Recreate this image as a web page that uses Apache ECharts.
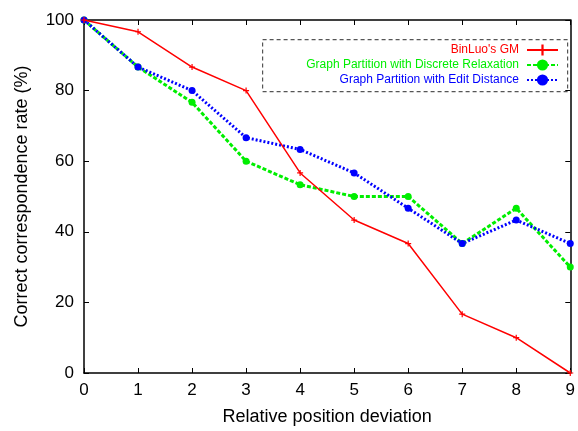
<!DOCTYPE html>
<html><head><meta charset="utf-8">
<script src="https://cdn.jsdelivr.net/npm/echarts@6/dist/echarts.min.js"></script>
<style>html,body{margin:0;padding:0;background:#fff;overflow:hidden}#c{width:578px;height:431px}</style>
</head><body><div id="c"></div>
<script>
const xValues = [0,1,2,3,4,5,6,7,8,9];
const binLuo = [100,96.67,86.67,80,56.67,43.33,36.67,16.67,10,0];
const discreteRelax = [100,86.67,76.67,60,53.33,50,50,36.67,46.67,30];
const editDistance = [100,86.67,80,66.67,63.33,56.67,46.67,36.67,43.33,36.67];
const seriesNames = ["BinLuo's GM","Graph Partition with Discrete Relaxation","Graph Partition with Edit Distance"];
const xTicks = [0,1,2,3,4,5,6,7,8,9];
const yTicks = [0,20,40,60,80,100];

const pair = arr => xValues.map((x,i)=>[x,arr[i]]);
const font = 'Liberation Sans, Arial, sans-serif';
const plus = 'path://M-0.2,-1 L0.2,-1 L0.2,-0.2 L1,-0.2 L1,0.2 L0.2,0.2 L0.2,1 L-0.2,1 L-0.2,0.2 L-1,0.2 L-1,-0.2 L-0.2,-0.2 Z';
const axBase = () => ({
  axisLine:{show:true,onZero:false,lineStyle:{color:'#000',width:1.5}},
  axisTick:{show:true,inside:true,length:5,lineStyle:{color:'#000',width:1}},
  splitLine:{show:false}
});
const chart = echarts.init(document.getElementById('c'),null,{renderer:'canvas'});
chart.setOption({
  animation:false,
  backgroundColor:'#fff',
  grid:{left:84,right:6,top:20,bottom:55},
  xAxis:[
    Object.assign({type:'value',min:0,max:9,interval:1,position:'bottom',
      name:'Relative position deviation',nameLocation:'middle',nameGap:35,
      nameTextStyle:{fontFamily:font,fontSize:18,color:'#000'},
      axisLabel:{fontFamily:font,fontSize:17,color:'#000',margin:9,
        formatter:v=>xTicks.includes(v)?String(v):''}},axBase()),
    Object.assign({type:'value',min:0,max:9,interval:1,position:'top',axisLabel:{show:false}},axBase())
  ],
  yAxis:[
    Object.assign({type:'value',min:0,max:100,interval:20,position:'left',
      name:'Correct correspondence rate (%)',nameLocation:'middle',nameGap:53,
      nameTextStyle:{fontFamily:font,fontSize:18,color:'#000'},
      axisLabel:{fontFamily:font,fontSize:17,color:'#000',margin:10,
        formatter:v=>yTicks.includes(v)?String(v):''}},axBase()),
    Object.assign({type:'value',min:0,max:100,interval:20,position:'right',axisLabel:{show:false}},axBase())
  ],
  legend:{
    orient:'vertical',right:14,top:38,align:'right',itemGap:1,itemWidth:31,itemHeight:14,
    data:[
      {name:seriesNames[0],textStyle:{color:'#ff0000'}},
      {name:seriesNames[1],textStyle:{color:'#00ee00'}},
      {name:seriesNames[2],textStyle:{color:'#0000ff'}}
    ],
    textStyle:{fontFamily:font,fontSize:12,lineHeight:14,padding:[0,3,0,0]}
  },
  graphic:[{type:'rect',left:262,top:39,shape:{width:305,height:52},
    style:{fill:'transparent',stroke:'#555',lineWidth:1.2,lineDash:[4,3]},z:100}],
  series:[
    {name:seriesNames[0],type:'line',data:pair(binLuo),color:'#ff0000',
     lineStyle:{color:'#ff0000',width:1.5,type:'solid'},symbol:plus,symbolSize:6,
     itemStyle:{color:'#ff0000'},z:3},
    {name:seriesNames[1],type:'line',data:pair(discreteRelax),color:'#00ee00',
     lineStyle:{color:'#00ee00',width:3,type:[4,2]},symbol:'circle',symbolSize:7,
     itemStyle:{color:'#00ee00'},z:2},
    {name:seriesNames[2],type:'line',data:pair(editDistance),color:'#0000ff',
     lineStyle:{color:'#0000ff',width:3,type:[2,2]},symbol:'circle',symbolSize:7,
     itemStyle:{color:'#0000ff'},z:2}
  ]
});
</script></body></html>
